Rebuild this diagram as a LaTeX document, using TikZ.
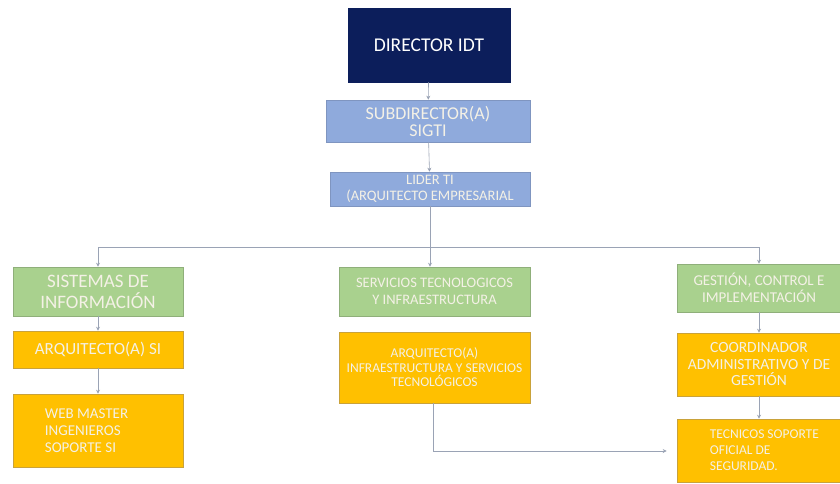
\documentclass[tikz,border=0pt]{standalone}
\usepackage{fontspec}
\setmainfont{Carlito}
\usetikzlibrary{arrows.meta}
\definecolor{navy}{HTML}{0C1E5B}
\definecolor{lblue}{HTML}{8FAADC}
\definecolor{lgreen}{HTML}{A9D18E}
\definecolor{gold}{HTML}{FFC000}
\definecolor{goldedge}{HTML}{C9A23A}
\definecolor{greenedge}{HTML}{8FAF7A}
\definecolor{blueedge}{HTML}{7F95C0}
\definecolor{conn}{HTML}{9AA3B5}
\definecolor{txtw}{HTML}{F4F1E6}
\begin{document}
\begin{tikzpicture}[x=1pt,y=-1pt,
  box/.style={draw, line width=0.6pt, align=center, inner sep=1pt, text=txtw},
  bluebox/.style={box, fill=lblue, draw=blueedge},
  greenbox/.style={box, fill=lgreen, draw=greenedge},
  goldbox/.style={box, fill=gold, draw=goldedge},
  lefttext/.style={anchor=west, align=left, inner sep=0pt, text=txtw},
  link/.style={draw=conn, line width=0.6pt, -{Stealth[length=4pt,width=4pt]}},
  plain/.style={draw=conn, line width=0.6pt}]
\useasboundingbox (0,0) rectangle (840,483);
\fill[white] (0,0) rectangle (840,483);
% top chain
\node[box, fill=navy, draw=navy, minimum width=162pt, minimum height=74pt, font=\fontsize{19.5}{22}\selectfont, text=white] (dir) at (429,45) {DIRECTOR IDT};
\node[bluebox, minimum width=204pt, minimum height=42pt, font=\fontsize{18}{17}\selectfont] (sub) at (428,121) {SUBDIRECTOR(A)\\SIGTI};
\node[bluebox, minimum width=200pt, minimum height=34pt, font=\fontsize{14.5}{16.5}\selectfont] (lid) at (430,189) {LIDER TI\\(ARQUITECTO EMPRESARIAL};
% level 2
\node[greenbox, minimum width=170pt, minimum height=49pt, font=\fontsize{19}{21}\selectfont] (sis) at (98,291.5) {SISTEMAS DE\\INFORMACIÓN};
\node[greenbox, minimum width=191pt, minimum height=49pt, font=\fontsize{14.5}{16.5}\selectfont] (ser) at (434.5,291.5) {SERVICIOS TECNOLOGICOS\\Y INFRAESTRUCTURA};
\node[greenbox, minimum width=164pt, minimum height=48pt, font=\fontsize{15}{17}\selectfont] (ges) at (759,288) {GESTIÓN, CONTROL E\\IMPLEMENTACIÓN};
% level 3
\node[goldbox, minimum width=170pt, minimum height=37pt, font=\fontsize{17}{19}\selectfont] (asi) at (98,349.5) {ARQUITECTO(A) SI};
\node[goldbox, minimum width=191pt, minimum height=71pt, font=\fontsize{13.5}{14.5}\selectfont] (ain) at (434.5,367.5) {ARQUITECTO(A)\\INFRAESTRUCTURA Y SERVICIOS\\TECNOLÓGICOS};
\node[goldbox, minimum width=164pt, minimum height=63pt, font=\fontsize{15.5}{16.5}\selectfont] (coo) at (759,364.5) {COORDINADOR\\ADMINISTRATIVO Y DE\\GESTIÓN};
% level 4
\node[goldbox, minimum width=170pt, minimum height=73pt] (web) at (98,430.5) {};
\node[lefttext, font=\fontsize{15}{17}\selectfont] (webT) at ([xshift=32pt]web.west) {WEB MASTER\\INGENIEROS\\SOPORTE SI};
\node[goldbox, minimum width=164pt, minimum height=63pt] (tec) at (759,450.5) {};
\node[lefttext, font=\fontsize{13.5}{16}\selectfont] (tecT) at ([xshift=33pt]tec.west) {TECNICOS SOPORTE\\OFICIAL DE\\SEGURIDAD.};
% connectors
\coordinate (bus) at (430,247);
\path[link] (dir) -- (sub);
\path[link] (sub) -- (lid);
\path[plain] (lid) -- (bus);
\path[link] (bus) -| (sis);
\path[link] (bus) -- (bus |- ser.north);
\path[link] (bus) -| (ges);
\path[link] (sis) -- (asi);
\path[link] (asi) -- (web);
\path[link] (ges) -- (coo);
\path[link] (coo) -- (tec);
\coordinate (turn) at (433,451);
\path[plain] (ain.south -| turn) -- (turn);
\path[link] (turn) -- ([xshift=-10pt]tec.west |- turn);
\end{tikzpicture}
\end{document}
